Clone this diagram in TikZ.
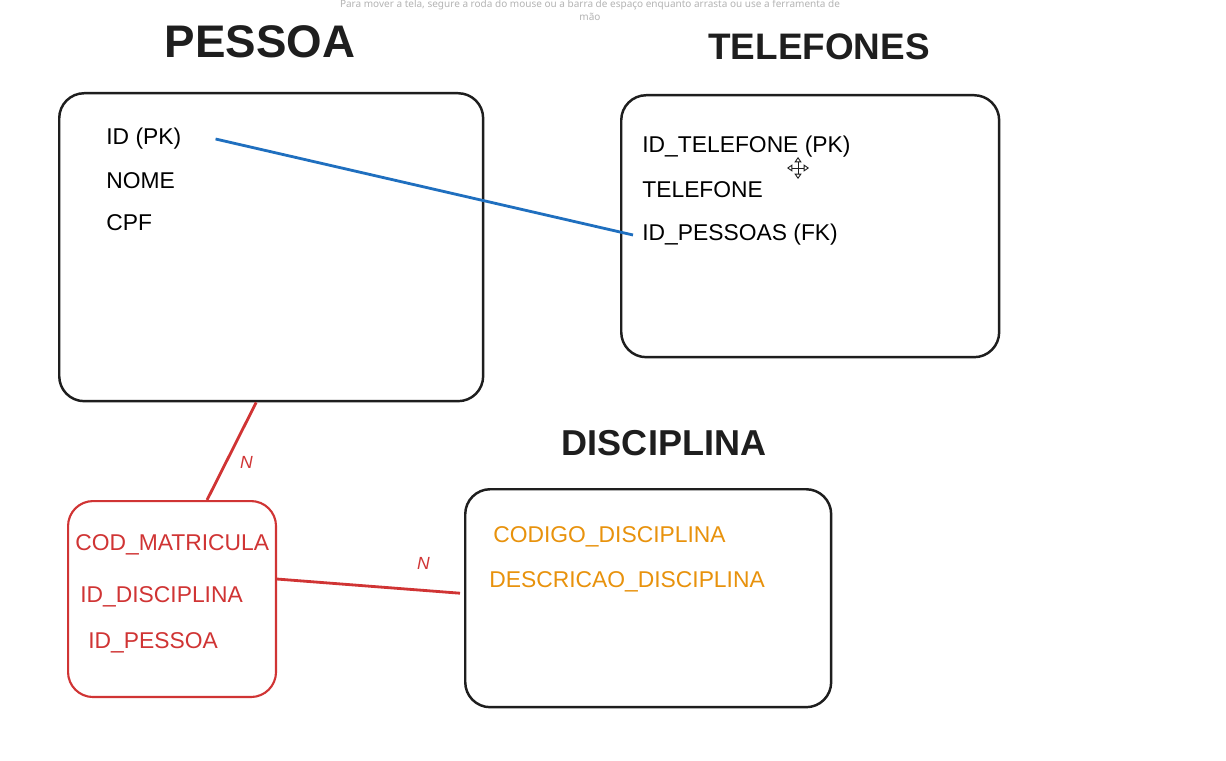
\documentclass[tikz,border=0pt]{standalone}
\usepackage{fontspec}
\setmainfont{Liberation Sans}
\newfontfamily\hintfont{Noto Sans}
\usetikzlibrary{arrows.meta}

\definecolor{penblack}{HTML}{1E1E1E}
\definecolor{penred}{HTML}{D03434}
\definecolor{penblue}{HTML}{1F6FBF}
\definecolor{penorange}{HTML}{E8920C}
\definecolor{hintgray}{HTML}{B4B4B4}

\begin{document}
\begin{tikzpicture}[x=0.02cm, y=-0.02cm,
  entity/.style={draw=penblack, line width=1.4pt, rounded corners=0.5cm,
    anchor=north west, inner sep=0pt},
  title/.style={font=\fontsize{26}{28}\selectfont\bfseries, text=penblack},
  attr/.style={anchor=west, inner sep=0pt, font=\fontsize{13}{15}\selectfont},
  relline/.style={draw=penred, line width=1.6pt},
  card/.style={text=penred, font=\fontsize{10}{12}\selectfont\itshape}]
\useasboundingbox[fill=white] (0,0) rectangle (1226,760);

% texto da tela
\node[font=\hintfont\fontsize{5.7}{7}\selectfont, text=hintgray] (hint) at (590,5)
  {Para mover a tela, segure a roda do mouse ou a barra de espaço enquanto arrasta ou use a ferramenta de};
\node[font=\hintfont\fontsize{5.7}{7}\selectfont, text=hintgray] (hint2) at (590,17) {mão};

% titulos
\node[title] (tpessoa) at (260,42) {PESSOA};
\node[title, font=\fontsize{21}{24}\selectfont\bfseries] (ttelefones) at (819,47) {TELEFONES};
\node[title, font=\fontsize{20.5}{24}\selectfont\bfseries] (tdisciplina) at (664,443) {DISCIPLINA};

% tabelas
\node[entity, minimum width=8.48cm, minimum height=6.16cm] (pessoa) at (58,92) {};
\node[entity, minimum width=7.56cm, minimum height=5.24cm] (telefones) at (620,94) {};
\node[entity, minimum width=7.32cm, minimum height=4.36cm] (disciplina) at (464,488) {};
\node[entity, draw=penred, line width=1.2pt, minimum width=4.16cm, minimum height=3.92cm] (matricula) at (67,500) {};

% atributos PESSOA
\node[attr] (idpk) at (106,139) {ID (PK)};
\node[attr] (nome) at (106,181) {NOME};
\node[attr] (cpf) at (106,223) {CPF};

% atributos TELEFONES
\node[attr] (idtel) at (642,147) {ID\_TELEFONE (PK)};
\node[attr] (tel) at (642,190) {TELEFONE};
\node[attr] (idfk) at (642,235) {ID\_PESSOAS (FK)};

% atributos DISCIPLINA
\node[attr, text=penorange] (coddisc) at (493,537) {CODIGO\_DISCIPLINA};
\node[attr, text=penorange] (descdisc) at (489,582) {DESCRICAO\_DISCIPLINA};

% atributos MATRICULA
\node[attr, text=penred] (codmat) at (75,545) {COD\_MATRICULA};
\node[attr, text=penred] (iddisc) at (80,597) {ID\_DISCIPLINA};
\node[attr, text=penred] (idpes) at (88,643) {ID\_PESSOA};

% ligacoes
\draw[draw=penblue, line width=1.6pt] ([xshift=0.68cm]idpk.east) -- ([xshift=-0.18cm]idfk.west);
\draw[relline] ([xshift=-0.3cm]pessoa.south) -- ([xshift=0.7cm]matricula.north)
  node[card, pos=0.62, right=4pt] (n1) {N};
\draw[relline] ([yshift=0.4cm]matricula.east) -- ([yshift=0.1cm,xshift=-0.08cm]disciplina.west)
  node[card, pos=0.8, above=8pt] (n2) {N};

% cursor
\coordinate (cursor) at (798,168);
\draw[penblack, line width=0.5pt, -{Triangle[open,length=3pt,width=4pt]}] (cursor) -- ++(11,0);
\draw[penblack, line width=0.5pt, -{Triangle[open,length=3pt,width=4pt]}] (cursor) -- ++(-11,0);
\draw[penblack, line width=0.5pt, -{Triangle[open,length=3pt,width=4pt]}] (cursor) -- ++(0,11);
\draw[penblack, line width=0.5pt, -{Triangle[open,length=3pt,width=4pt]}] (cursor) -- ++(0,-11);
\end{tikzpicture}
\end{document}
